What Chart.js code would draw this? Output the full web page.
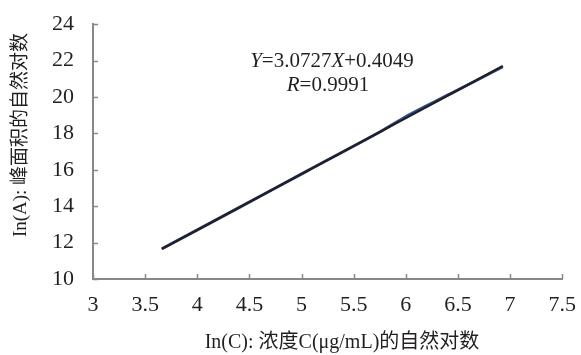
<!DOCTYPE html>
<html><head><meta charset="utf-8">
<script src="https://cdn.jsdelivr.net/npm/chart.js@4/dist/chart.umd.min.js"></script>
<style>html,body{margin:0;padding:0;background:#fff}#wrap{width:581px;height:355px}</style>
</head><body><div id="wrap"><canvas id="c" width="581" height="355"></canvas></div>
<script>
const dataX = [3.66, 4.36, 5.05, 5.75, 6.05, 6.44, 6.93];
const dataY = [11.66, 13.80, 15.93, 18.08, 19.08, 20.21, 21.66];
const trendX = [3.66, 6.93];
const trendY = [11.65, 21.70];
const xTicks = [3, 3.5, 4, 4.5, 5, 5.5, 6, 6.5, 7, 7.5];
const yTicks = [10, 12, 14, 16, 18, 20, 22, 24];
const xTitle = 'In(C): 浓度C(μg/mL)的自然对数';
const yTitle = 'In(A): 峰面积的自然对数';
const eqLine1 = [['Y', true], ['=3.0727', false], ['X', true], ['+0.4049', false]];
const eqLine2 = [['R', true], ['=0.9991', false]];

const SERIF = '"Liberation Serif","Times New Roman",serif';
const CJK = '"Liberation Serif","Noto Sans CJK SC",serif';
const TXT = '#231f20';
const AX = '#8c8786';

const decor = {
  id: 'decor',
  afterDraw(chart) {
    const ctx = chart.ctx, xs = chart.scales.x, ys = chart.scales.y;
    ctx.save();
    ctx.strokeStyle = AX; ctx.lineWidth = 1.5;
    xTicks.forEach(v => { const px = Math.round(xs.getPixelForValue(v)) + 0.5; ctx.beginPath(); ctx.moveTo(px, ys.bottom); ctx.lineTo(px, ys.bottom - 5); ctx.stroke(); });
    yTicks.forEach(v => { const py = Math.round(ys.getPixelForValue(v)) + 0.5; ctx.beginPath(); ctx.moveTo(xs.left, py); ctx.lineTo(xs.left + 5, py); ctx.stroke(); });
    ctx.fillStyle = TXT;
    ctx.textAlign = 'center'; ctx.textBaseline = 'middle';
    ctx.font = '20px ' + CJK;
    ctx.fillText(xTitle, 342, 343);
    ctx.font = '19px ' + CJK;
    ctx.save(); ctx.translate(21, 135); ctx.rotate(-Math.PI / 2); ctx.fillText(yTitle, 0, 0); ctx.restore();
    const drawRich = (parts, cx, cy) => {
      let w = 0;
      parts.forEach(([t, it]) => { ctx.font = (it ? 'italic ' : '') + '21px ' + SERIF; w += ctx.measureText(t).width; });
      let x = cx - w / 2; ctx.textAlign = 'left';
      parts.forEach(([t, it]) => { ctx.font = (it ? 'italic ' : '') + '21px ' + SERIF; ctx.fillText(t, x, cy); x += ctx.measureText(t).width; });
    };
    drawRich(eqLine1, 332, 61);
    drawRich(eqLine2, 328, 85);
    ctx.restore();
  }
};

new Chart(document.getElementById('c'), {
  type: 'scatter',
  data: {
    datasets: [
      { data: dataX.map((x, i) => ({x, y: dataY[i]})), showLine: true, borderColor: '#2d4f9e', borderWidth: 3, pointRadius: 0, tension: 0.3, order: 2 },
      { data: trendX.map((x, i) => ({x, y: trendY[i]})), showLine: true, borderColor: '#231f20', borderWidth: 2.2, pointRadius: 0, order: 1 }
    ]
  },
  options: {
    responsive: false, animation: false, devicePixelRatio: 1,
    layout: { padding: { top: 23, right: 16, left: 0, bottom: 0 } },
    plugins: { legend: { display: false }, tooltip: { enabled: false } },
    scales: {
      x: {
        type: 'linear', min: 3, max: 7.5,
        afterBuildTicks: s => { s.ticks = xTicks.map(v => ({value: v})); },
        afterFit: s => { s.height = 76; },
        grid: { display: false },
        border: { display: true, color: AX, width: 2 },
        ticks: { color: TXT, font: { family: SERIF, size: 22 }, padding: 5, maxRotation: 0, autoSkip: false, callback: v => String(v) }
      },
      y: {
        type: 'linear', min: 10, max: 24,
        afterBuildTicks: s => { s.ticks = yTicks.map(v => ({value: v})); },
        afterFit: s => { s.width = 93; },
        grid: { display: false },
        border: { display: true, color: AX, width: 2 },
        ticks: { color: TXT, font: { family: SERIF, size: 22 }, padding: 11, autoSkip: false, callback: v => String(v) }
      }
    }
  },
  plugins: [decor]
});
</script></body></html>
